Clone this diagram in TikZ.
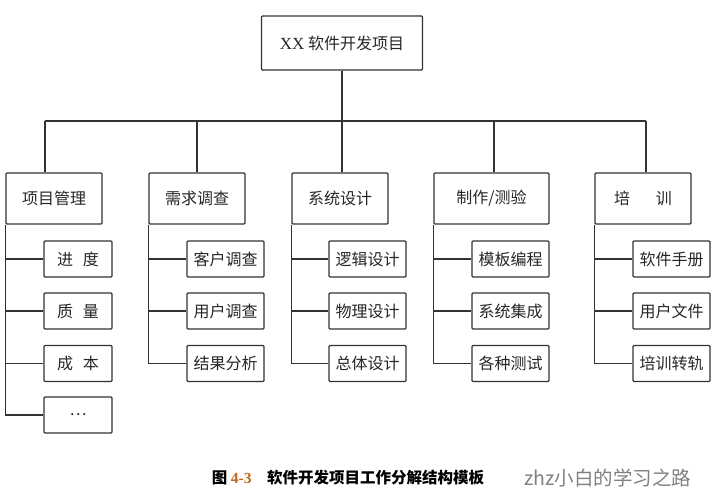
\documentclass[tikz,border=0pt]{standalone}
\usepackage{fontspec}
\setmainfont{Liberation Serif}
\newfontfamily\cjk{Noto Sans CJK SC}
\usetikzlibrary{positioning}
\definecolor{figno}{RGB}{196,102,24}

\begin{document}
\begin{tikzpicture}[x=1pt, y=-1pt,
  box/.style={draw=black!80, line width=1.2pt, rounded corners=1pt, minimum height=51pt, minimum width=96pt, inner sep=0pt, align=center, text=black!85, font=\cjk\fontsize{16}{19}\selectfont},
  sub/.style={box, minimum height=36pt, minimum width=77pt},
  link/.style={draw=black!80, line width=1.2pt}
]
\useasboundingbox (0,0) rectangle (720,500);
\node[box, minimum width=161pt, minimum height=54pt] (root) at (342,43) {{\rmfamily\fontsize{17}{19}\selectfont XX} 软件开发项目};
\node[box] (pm) at (54,198.5) {项目管理};
\node[box] (xq) at (197,198.5) {需求调查};
\node[box] (xt) at (340,198.5) {系统设计};
\node[box, minimum width=115pt] (zz) at (491.5,198.5) {制作/测验};
\node[box] (px) at (643,198.5) {培\hspace{1.6em}训};
\node[sub, minimum width=68pt] (pm1) at (78,259) {进\hspace{0.6em}度};
\node[sub, minimum width=68pt] (pm2) at (78,311) {质\hspace{0.6em}量};
\node[sub, minimum width=68pt] (pm3) at (78,363.5) {成\hspace{0.6em}本};
\node[sub, minimum width=68pt] (pm4) at (78,415) {…};
\node[sub] (xq1) at (225.5,259) {客户调查};
\node[sub] (xq2) at (225.5,311) {用户调查};
\node[sub] (xq3) at (225.5,363.5) {结果分析};
\node[sub] (xt1) at (367.5,259) {逻辑设计};
\node[sub] (xt2) at (367.5,311) {物理设计};
\node[sub] (xt3) at (367.5,363.5) {总体设计};
\node[sub] (zz1) at (510.5,259) {模板编程};
\node[sub] (zz2) at (510.5,311) {系统集成};
\node[sub] (zz3) at (510.5,363.5) {各种测试};
\node[sub] (px1) at (671.5,259) {软件手册};
\node[sub] (px2) at (671.5,311) {用户文件};
\node[sub] (px3) at (671.5,363.5) {培训转轨};
\coordinate (j1) at (45,121);
\coordinate (j2) at (197,121);
\coordinate (j3) at (342,121);
\coordinate (j4) at (494,121);
\coordinate (j5) at (646,121);
\draw[link] (root) -- (j3);
\draw[link] (j1) -- (j5);
\foreach \j/\b in {j1/pm, j2/xq, j3/xt, j4/zz, j5/px}
  \draw[link] (\j) -- (\j |- \b.north);
\foreach \p/\c in {pm/pm1, pm/pm2, pm/pm3, pm/pm4, xq/xq1, xq/xq2, xq/xq3, xt/xt1, xt/xt2, xt/xt3, zz/zz1, zz/zz2, zz/zz3, px/px1, px/px2, px/px3}
  \draw[link] (\p.south west) |- (\c.west);
\node[font=\cjk\bfseries\fontsize{15.5}{18}\selectfont] (cap) at (348,478) {图 {\rmfamily\color{figno}4-3}\hspace{1em}软件开发项目工作分解结构模板};
\node[font=\cjk\fontsize{19.5}{22}\selectfont, text=black!50] (mark) at (608,478) {zhz小白的学习之路};
\end{tikzpicture}
\end{document}
